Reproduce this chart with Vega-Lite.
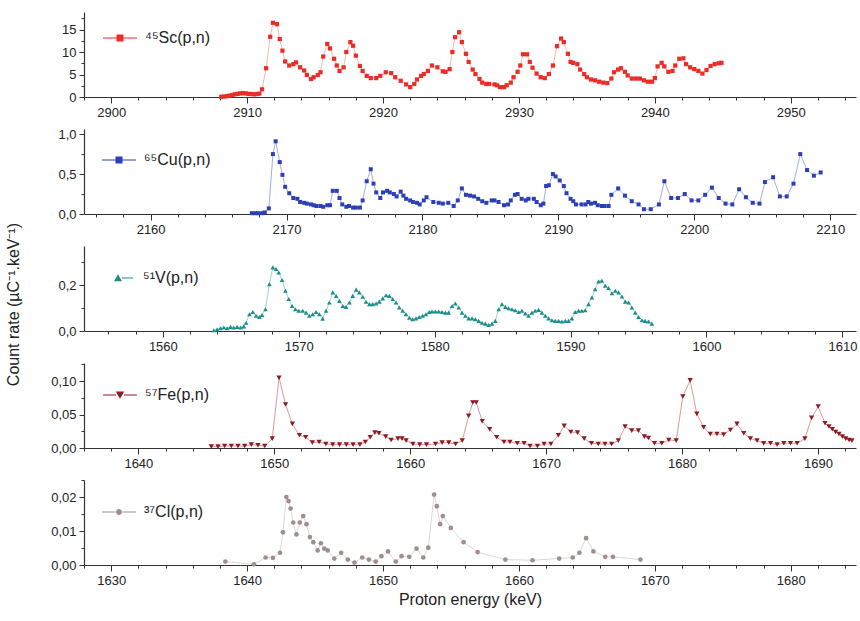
{
  "$schema": "https://vega.github.io/schema/vega-lite/v6.json",
  "padding": {"left": 5, "top": 12, "right": 2, "bottom": 5},
  "spacing": 32,
  "bounds": "flush",
  "background": "white",
  "datasets": {
    "sc": [
      {"E":2908.1,"v":0.05},{"E":2908.3,"v":0.1},{"E":2908.5,"v":0.2},{"E":2908.7,"v":0.3},{"E":2908.9,"v":0.45},{"E":2909.1,"v":0.6},{"E":2909.3,"v":0.7},{"E":2909.5,"v":0.8},{"E":2909.7,"v":0.85},{"E":2909.9,"v":0.8},{"E":2910.1,"v":0.7},{"E":2910.3,"v":0.65},{"E":2910.5,"v":0.6},{"E":2910.7,"v":0.65},{"E":2910.9,"v":0.75},
      {"E":2911.1,"v":1.7},{"E":2911.4,"v":6.4},{"E":2911.7,"v":13.4},{"E":2911.9,"v":16.5},{"E":2912.2,"v":16.2},{"E":2912.4,"v":12.9},{"E":2912.6,"v":10.3},{"E":2912.8,"v":7.9},{"E":2913.1,"v":7.0},{"E":2913.4,"v":7.3},{"E":2913.6,"v":7.7},{"E":2913.9,"v":6.6},{"E":2914.2,"v":5.9},{"E":2914.4,"v":4.9},{"E":2914.7,"v":4.0},{"E":2914.9,"v":4.4},{"E":2915.2,"v":4.9},{"E":2915.4,"v":5.5},{"E":2915.6,"v":9.0},{"E":2915.9,"v":11.8},{"E":2916.1,"v":10.8},{"E":2916.4,"v":8.5},{"E":2916.6,"v":7.0},{"E":2916.8,"v":5.8},{"E":2917.1,"v":6.6},{"E":2917.3,"v":10.0},{"E":2917.6,"v":12.2},{"E":2917.8,"v":11.4},{"E":2918.0,"v":9.2},{"E":2918.3,"v":6.9},{"E":2918.5,"v":5.8},{"E":2918.8,"v":4.7},{"E":2919.1,"v":4.2},{"E":2919.5,"v":4.2},{"E":2919.8,"v":4.7},{"E":2920.2,"v":5.5},{"E":2920.6,"v":5.3},{"E":2920.9,"v":4.4},{"E":2921.3,"v":3.6},{"E":2921.7,"v":2.8},{"E":2922.0,"v":2.2},{"E":2922.3,"v":2.9},{"E":2922.5,"v":3.9},{"E":2922.8,"v":4.7},{"E":2923.0,"v":5.1},{"E":2923.3,"v":5.8},{"E":2923.6,"v":7.0},{"E":2924.0,"v":6.6},{"E":2924.4,"v":5.7},{"E":2924.6,"v":5.6},{"E":2924.9,"v":6.2},{"E":2925.1,"v":10.0},{"E":2925.3,"v":13.3},{"E":2925.6,"v":14.4},{"E":2925.8,"v":12.2},{"E":2926.1,"v":9.6},{"E":2926.3,"v":7.8},{"E":2926.6,"v":6.1},{"E":2926.8,"v":5.1},{"E":2927.1,"v":4.0},{"E":2927.3,"v":3.2},{"E":2927.6,"v":2.9},{"E":2927.8,"v":2.9},{"E":2928.2,"v":2.8},{"E":2928.4,"v":2.6},{"E":2928.6,"v":2.2},{"E":2928.9,"v":2.2},{"E":2929.1,"v":2.6},{"E":2929.4,"v":3.2},{"E":2929.6,"v":4.4},{"E":2929.9,"v":5.6},{"E":2930.1,"v":7.0},{"E":2930.3,"v":9.5},{"E":2930.6,"v":9.5},{"E":2930.8,"v":7.8},{"E":2931.0,"v":6.5},{"E":2931.3,"v":5.2},{"E":2931.6,"v":4.4},{"E":2931.9,"v":4.2},{"E":2932.2,"v":5.1},{"E":2932.5,"v":7.0},{"E":2932.8,"v":11.3},{"E":2933.1,"v":13.0},{"E":2933.3,"v":12.2},{"E":2933.6,"v":9.6},{"E":2933.8,"v":7.8},{"E":2934.0,"v":7.6},{"E":2934.3,"v":7.3},{"E":2934.5,"v":6.1},{"E":2934.8,"v":5.1},{"E":2935.0,"v":4.4},{"E":2935.3,"v":3.9},{"E":2935.6,"v":3.7},{"E":2935.9,"v":3.4},{"E":2936.2,"v":3.2},{"E":2936.5,"v":3.1},{"E":2936.8,"v":4.1},{"E":2937.0,"v":5.5},{"E":2937.3,"v":6.1},{"E":2937.5,"v":6.4},{"E":2937.8,"v":5.6},{"E":2938.0,"v":4.8},{"E":2938.3,"v":4.1},{"E":2938.6,"v":4.1},{"E":2938.9,"v":4.1},{"E":2939.2,"v":3.7},{"E":2939.5,"v":3.4},{"E":2939.8,"v":3.4},{"E":2940.0,"v":4.2},{"E":2940.2,"v":6.8},{"E":2940.5,"v":7.6},{"E":2940.7,"v":6.8},{"E":2941.0,"v":5.6},{"E":2941.3,"v":5.8},{"E":2941.5,"v":7.0},{"E":2941.8,"v":8.5},{"E":2942.1,"v":8.6},{"E":2942.3,"v":7.3},{"E":2942.6,"v":6.6},{"E":2942.9,"v":6.2},{"E":2943.2,"v":5.8},{"E":2943.5,"v":5.2},{"E":2943.8,"v":6.0},{"E":2944.1,"v":6.9},{"E":2944.4,"v":7.3},{"E":2944.7,"v":7.5},{"E":2944.9,"v":7.6}
    ],
    "cu": [
      {"E":2167.45,"v":0.01},{"E":2167.7,"v":0.01},{"E":2167.9,"v":0.01},{"E":2168.2,"v":0.01},{"E":2168.4,"v":0.02},{"E":2168.7,"v":0.07},{"E":2169.0,"v":0.75},{"E":2169.2,"v":0.91},{"E":2169.5,"v":0.65},{"E":2169.7,"v":0.49},{"E":2169.9,"v":0.34},{"E":2170.2,"v":0.26},{"E":2170.5,"v":0.2},{"E":2170.8,"v":0.19},{"E":2171.0,"v":0.15},{"E":2171.3,"v":0.14},{"E":2171.5,"v":0.13},{"E":2171.8,"v":0.12},{"E":2172.0,"v":0.11},{"E":2172.2,"v":0.1},{"E":2172.5,"v":0.1},{"E":2172.7,"v":0.09},{"E":2173.0,"v":0.11},{"E":2173.2,"v":0.11},{"E":2173.4,"v":0.29},{"E":2173.7,"v":0.29},{"E":2173.9,"v":0.2},{"E":2174.1,"v":0.12},{"E":2174.4,"v":0.09},{"E":2174.6,"v":0.1},{"E":2174.9,"v":0.08},{"E":2175.1,"v":0.08},{"E":2175.4,"v":0.08},{"E":2175.6,"v":0.17},{"E":2175.9,"v":0.41},{"E":2176.2,"v":0.56},{"E":2176.4,"v":0.38},{"E":2176.6,"v":0.27},{"E":2176.9,"v":0.2},{"E":2177.1,"v":0.27},{"E":2177.4,"v":0.29},{"E":2177.6,"v":0.27},{"E":2177.9,"v":0.25},{"E":2178.1,"v":0.22},{"E":2178.4,"v":0.28},{"E":2178.6,"v":0.23},{"E":2178.8,"v":0.19},{"E":2179.1,"v":0.17},{"E":2179.3,"v":0.15},{"E":2179.6,"v":0.14},{"E":2179.8,"v":0.12},{"E":2180.1,"v":0.17},{"E":2180.3,"v":0.21},{"E":2180.8,"v":0.15},{"E":2181.2,"v":0.14},{"E":2181.5,"v":0.13},{"E":2181.9,"v":0.14},{"E":2182.3,"v":0.1},{"E":2182.6,"v":0.17},{"E":2182.9,"v":0.32},{"E":2183.2,"v":0.24},{"E":2183.5,"v":0.23},{"E":2183.8,"v":0.22},{"E":2184.1,"v":0.19},{"E":2184.4,"v":0.16},{"E":2184.7,"v":0.14},{"E":2185.1,"v":0.17},{"E":2185.3,"v":0.17},{"E":2185.6,"v":0.15},{"E":2186.0,"v":0.11},{"E":2186.3,"v":0.12},{"E":2186.5,"v":0.17},{"E":2186.8,"v":0.24},{"E":2187.0,"v":0.25},{"E":2187.3,"v":0.19},{"E":2187.6,"v":0.17},{"E":2187.8,"v":0.19},{"E":2188.2,"v":0.19},{"E":2188.4,"v":0.15},{"E":2188.7,"v":0.11},{"E":2188.9,"v":0.13},{"E":2189.1,"v":0.35},{"E":2189.3,"v":0.36},{"E":2189.6,"v":0.5},{"E":2189.8,"v":0.47},{"E":2190.1,"v":0.42},{"E":2190.4,"v":0.35},{"E":2190.6,"v":0.26},{"E":2190.9,"v":0.19},{"E":2191.1,"v":0.16},{"E":2191.3,"v":0.12},{"E":2191.7,"v":0.12},{"E":2192.0,"v":0.12},{"E":2192.2,"v":0.15},{"E":2192.4,"v":0.13},{"E":2192.7,"v":0.14},{"E":2192.9,"v":0.11},{"E":2193.2,"v":0.1},{"E":2193.4,"v":0.1},{"E":2193.7,"v":0.1},{"E":2193.9,"v":0.24},{"E":2194.4,"v":0.32},{"E":2194.9,"v":0.23},{"E":2195.4,"v":0.16},{"E":2195.9,"v":0.12},{"E":2196.3,"v":0.06},{"E":2196.8,"v":0.06},{"E":2197.4,"v":0.12},{"E":2197.8,"v":0.41},{"E":2198.3,"v":0.2},{"E":2198.8,"v":0.2},{"E":2199.3,"v":0.25},{"E":2199.8,"v":0.17},{"E":2200.3,"v":0.17},{"E":2200.8,"v":0.24},{"E":2201.3,"v":0.33},{"E":2201.8,"v":0.2},{"E":2202.3,"v":0.13},{"E":2202.8,"v":0.12},{"E":2203.3,"v":0.31},{"E":2203.8,"v":0.21},{"E":2204.3,"v":0.14},{"E":2204.8,"v":0.13},{"E":2205.2,"v":0.4},{"E":2205.8,"v":0.46},{"E":2206.3,"v":0.22},{"E":2206.8,"v":0.22},{"E":2207.3,"v":0.38},{"E":2207.8,"v":0.75},{"E":2208.3,"v":0.55},{"E":2208.8,"v":0.48},{"E":2209.3,"v":0.52}
    ],
    "va": [
      {"E":1563.75,"v":0.003},{"E":1564.0,"v":0.007},{"E":1564.24,"v":0.012},{"E":1564.49,"v":0.015},{"E":1564.73,"v":0.012},{"E":1564.98,"v":0.018},{"E":1565.22,"v":0.015},{"E":1565.47,"v":0.018},{"E":1565.72,"v":0.015},{"E":1565.96,"v":0.02},{"E":1566.13,"v":0.036},{"E":1566.37,"v":0.073},{"E":1566.62,"v":0.083},{"E":1566.86,"v":0.066},{"E":1567.11,"v":0.061},{"E":1567.3,"v":0.07},{"E":1567.55,"v":0.095},{"E":1567.84,"v":0.204},{"E":1568.09,"v":0.277},{"E":1568.33,"v":0.27},{"E":1568.53,"v":0.255},{"E":1568.77,"v":0.222},{"E":1569.02,"v":0.175},{"E":1569.26,"v":0.139},{"E":1569.51,"v":0.109},{"E":1569.75,"v":0.095},{"E":1570.0,"v":0.088},{"E":1570.29,"v":0.088},{"E":1570.54,"v":0.08},{"E":1570.78,"v":0.066},{"E":1571.03,"v":0.073},{"E":1571.27,"v":0.083},{"E":1571.52,"v":0.073},{"E":1571.76,"v":0.054},{"E":1572.01,"v":0.088},{"E":1572.25,"v":0.124},{"E":1572.5,"v":0.168},{"E":1572.75,"v":0.153},{"E":1572.99,"v":0.131},{"E":1573.24,"v":0.109},{"E":1573.48,"v":0.105},{"E":1573.73,"v":0.124},{"E":1573.97,"v":0.153},{"E":1574.22,"v":0.18},{"E":1574.46,"v":0.168},{"E":1574.71,"v":0.149},{"E":1574.95,"v":0.127},{"E":1575.2,"v":0.117},{"E":1575.44,"v":0.117},{"E":1575.69,"v":0.12},{"E":1575.93,"v":0.128},{"E":1576.18,"v":0.142},{"E":1576.42,"v":0.156},{"E":1576.67,"v":0.153},{"E":1576.91,"v":0.139},{"E":1577.16,"v":0.124},{"E":1577.4,"v":0.102},{"E":1577.65,"v":0.088},{"E":1577.89,"v":0.073},{"E":1578.14,"v":0.058},{"E":1578.38,"v":0.051},{"E":1578.63,"v":0.055},{"E":1578.87,"v":0.061},{"E":1579.12,"v":0.066},{"E":1579.36,"v":0.073},{"E":1579.6,"v":0.083},{"E":1579.8,"v":0.085},{"E":1580.05,"v":0.085},{"E":1580.3,"v":0.085},{"E":1580.54,"v":0.083},{"E":1580.79,"v":0.08},{"E":1581.03,"v":0.08},{"E":1581.28,"v":0.109},{"E":1581.52,"v":0.12},{"E":1581.77,"v":0.102},{"E":1582.01,"v":0.08},{"E":1582.26,"v":0.066},{"E":1582.5,"v":0.055},{"E":1582.75,"v":0.055},{"E":1582.99,"v":0.051},{"E":1583.24,"v":0.044},{"E":1583.48,"v":0.036},{"E":1583.73,"v":0.032},{"E":1583.97,"v":0.026},{"E":1584.22,"v":0.032},{"E":1584.46,"v":0.044},{"E":1584.71,"v":0.095},{"E":1584.95,"v":0.117},{"E":1585.2,"v":0.105},{"E":1585.44,"v":0.099},{"E":1585.69,"v":0.095},{"E":1585.93,"v":0.09},{"E":1586.18,"v":0.083},{"E":1586.42,"v":0.088},{"E":1586.67,"v":0.076},{"E":1586.91,"v":0.066},{"E":1587.16,"v":0.08},{"E":1587.4,"v":0.088},{"E":1587.65,"v":0.092},{"E":1587.89,"v":0.08},{"E":1588.14,"v":0.066},{"E":1588.38,"v":0.055},{"E":1588.63,"v":0.047},{"E":1588.87,"v":0.044},{"E":1589.12,"v":0.044},{"E":1589.36,"v":0.041},{"E":1589.61,"v":0.044},{"E":1589.85,"v":0.044},{"E":1590.1,"v":0.055},{"E":1590.34,"v":0.083},{"E":1590.59,"v":0.088},{"E":1590.83,"v":0.088},{"E":1591.08,"v":0.09},{"E":1591.32,"v":0.117},{"E":1591.57,"v":0.146},{"E":1591.81,"v":0.182},{"E":1592.06,"v":0.216},{"E":1592.3,"v":0.219},{"E":1592.55,"v":0.197},{"E":1592.79,"v":0.187},{"E":1593.04,"v":0.164},{"E":1593.29,"v":0.175},{"E":1593.53,"v":0.168},{"E":1593.78,"v":0.15},{"E":1594.02,"v":0.128},{"E":1594.27,"v":0.124},{"E":1594.51,"v":0.102},{"E":1594.76,"v":0.08},{"E":1595.0,"v":0.061},{"E":1595.25,"v":0.047},{"E":1595.49,"v":0.044},{"E":1595.74,"v":0.041},{"E":1595.98,"v":0.032}
    ],
    "fe": [
      {"E":1645.37,"v":0.002},{"E":1645.86,"v":0.002},{"E":1646.35,"v":0.003},{"E":1646.84,"v":0.003},{"E":1647.33,"v":0.003},{"E":1647.82,"v":0.003},{"E":1648.31,"v":0.005},{"E":1648.8,"v":0.004},{"E":1649.3,"v":0.003},{"E":1649.85,"v":0.014},{"E":1650.35,"v":0.105},{"E":1650.83,"v":0.065},{"E":1651.33,"v":0.036},{"E":1651.85,"v":0.019},{"E":1652.31,"v":0.016},{"E":1652.8,"v":0.008},{"E":1653.3,"v":0.009},{"E":1653.8,"v":0.006},{"E":1654.3,"v":0.005},{"E":1654.8,"v":0.005},{"E":1655.3,"v":0.005},{"E":1655.8,"v":0.005},{"E":1656.3,"v":0.005},{"E":1656.7,"v":0.009},{"E":1657.06,"v":0.016},{"E":1657.4,"v":0.023},{"E":1657.7,"v":0.022},{"E":1658.2,"v":0.017},{"E":1658.6,"v":0.012},{"E":1659.1,"v":0.014},{"E":1659.4,"v":0.014},{"E":1659.7,"v":0.011},{"E":1660.2,"v":0.006},{"E":1660.7,"v":0.005},{"E":1661.2,"v":0.005},{"E":1661.86,"v":0.006},{"E":1662.35,"v":0.008},{"E":1662.84,"v":0.008},{"E":1663.34,"v":0.006},{"E":1663.83,"v":0.011},{"E":1664.3,"v":0.048},{"E":1664.6,"v":0.068},{"E":1664.86,"v":0.068},{"E":1665.3,"v":0.04},{"E":1665.85,"v":0.028},{"E":1666.36,"v":0.016},{"E":1666.9,"v":0.009},{"E":1667.34,"v":0.009},{"E":1667.88,"v":0.007},{"E":1668.38,"v":0.007},{"E":1668.82,"v":0.003},{"E":1669.36,"v":0.003},{"E":1669.85,"v":0.006},{"E":1670.35,"v":0.006},{"E":1670.9,"v":0.019},{"E":1671.33,"v":0.033},{"E":1671.82,"v":0.024},{"E":1672.31,"v":0.023},{"E":1672.8,"v":0.014},{"E":1673.34,"v":0.007},{"E":1673.84,"v":0.006},{"E":1674.33,"v":0.006},{"E":1674.82,"v":0.006},{"E":1675.31,"v":0.011},{"E":1675.81,"v":0.032},{"E":1676.3,"v":0.026},{"E":1676.79,"v":0.026},{"E":1677.23,"v":0.017},{"E":1677.53,"v":0.015},{"E":1677.97,"v":0.007},{"E":1678.51,"v":0.007},{"E":1679.03,"v":0.012},{"E":1679.57,"v":0.011},{"E":1680.06,"v":0.077},{"E":1680.6,"v":0.101},{"E":1681.09,"v":0.051},{"E":1681.59,"v":0.031},{"E":1682.08,"v":0.021},{"E":1682.57,"v":0.021},{"E":1683.06,"v":0.02},{"E":1683.56,"v":0.027},{"E":1684.04,"v":0.036},{"E":1684.54,"v":0.022},{"E":1685.03,"v":0.014},{"E":1685.52,"v":0.011},{"E":1686.01,"v":0.007},{"E":1686.51,"v":0.007},{"E":1687.0,"v":0.005},{"E":1687.49,"v":0.007},{"E":1687.98,"v":0.007},{"E":1688.47,"v":0.007},{"E":1689.04,"v":0.014},{"E":1689.53,"v":0.045},{"E":1690.02,"v":0.062},{"E":1690.52,"v":0.037},{"E":1690.81,"v":0.032},{"E":1691.06,"v":0.028},{"E":1691.3,"v":0.024},{"E":1691.55,"v":0.021},{"E":1691.8,"v":0.017},{"E":1692.04,"v":0.014},{"E":1692.29,"v":0.012},{"E":1692.5,"v":0.011}
    ],
    "cl": [
      {"E":1638.4,"v":0.001},{"E":1640.5,"v":0.0002},{"E":1641.36,"v":0.0022},{"E":1641.9,"v":0.0021},{"E":1642.42,"v":0.0036},{"E":1642.64,"v":0.0096},{"E":1642.89,"v":0.02},{"E":1643.05,"v":0.0188},{"E":1643.2,"v":0.0166},{"E":1643.39,"v":0.0125},{"E":1643.63,"v":0.009},{"E":1643.88,"v":0.0125},{"E":1644.13,"v":0.0144},{"E":1644.37,"v":0.012},{"E":1644.62,"v":0.0082},{"E":1644.87,"v":0.0067},{"E":1645.19,"v":0.0043},{"E":1645.43,"v":0.0064},{"E":1645.68,"v":0.0048},{"E":1645.93,"v":0.0043},{"E":1646.42,"v":0.0019},{"E":1646.92,"v":0.0036},{"E":1647.41,"v":0.0016},{"E":1647.9,"v":0.0007},{"E":1648.47,"v":0.0022},{"E":1648.96,"v":0.0016},{"E":1649.46,"v":0.001},{"E":1649.88,"v":0.0026},{"E":1650.37,"v":0.004},{"E":1650.94,"v":0.001},{"E":1651.36,"v":0.0026},{"E":1651.93,"v":0.0024},{"E":1652.47,"v":0.0048},{"E":1652.96,"v":0.0022},{"E":1653.33,"v":0.0051},{"E":1653.76,"v":0.0207},{"E":1653.96,"v":0.0173},{"E":1654.2,"v":0.012},{"E":1654.4,"v":0.0144},{"E":1654.99,"v":0.0109},{"E":1655.93,"v":0.0067},{"E":1656.96,"v":0.0038},{"E":1659.0,"v":0.0016},{"E":1661.0,"v":0.0014},{"E":1662.96,"v":0.0019},{"E":1663.96,"v":0.0022},{"E":1664.45,"v":0.0036},{"E":1664.94,"v":0.0079},{"E":1665.48,"v":0.004},{"E":1666.35,"v":0.0024},{"E":1666.92,"v":0.0024},{"E":1668.94,"v":0.0016}
    ]
  },
  "vconcat": [
    {
      "width": 772, "height": 85,
      "data": {"name": "sc"},
      "encoding": {
        "x": {"field": "E", "type": "quantitative", "scale": {"domain": [2898, 2954.8], "nice": false, "zero": false},
          "axis": {"title": null, "format": "d", "values": [2898,2900,2902,2904,2906,2908,2910,2912,2914,2916,2918,2920,2922,2924,2926,2928,2930,2932,2934,2936,2938,2940,2942,2944,2946,2948,2950,2952,2954],
            "labelExpr": "datum.value % 10 === 0 ? datum.label : ''", "tickSize": {"condition": {"test": "datum.value % 10 === 0", "value": 6}, "value": 3}}},
        "y": {"field": "v", "type": "quantitative", "scale": {"domain": [0, 18.9], "nice": false, "zero": false},
          "axis": {"title": null, "values": [0,2.5,5,7.5,10,12.5,15,17.5],
            "labelExpr": "datum.value % 5 === 0 ? format(datum.value, 'd') : ''", "tickSize": {"condition": {"test": "datum.value % 5 === 0", "value": 5}, "value": 3}}}
      },
      "layer": [
        {"mark": {"type": "line", "color": "#f4a3a0", "strokeWidth": 0.8}},
        {"mark": {"type": "point", "shape": "square", "filled": true, "size": 18, "opacity": 1},
          "encoding": {"color": {"datum": "⁴⁵Sc(p,n)", "type": "nominal", "scale": {"range": ["#ec2c26"]},
            "legend": {"orient": "none", "legendX": 28, "legendY": 18, "symbolType": "M-3.4,-0.08H-0.7V0.08H-3.4Z M0.7,-0.08H3.4V0.08H0.7Z M-0.7,-0.7H0.7V0.7H-0.7Z"}}}}
      ]
    },
    {
      "width": 772, "height": 85,
      "data": {"name": "cu"},
      "encoding": {
        "x": {"field": "E", "type": "quantitative", "scale": {"domain": [2155.1, 2211.9], "nice": false, "zero": false},
          "axis": {"title": null, "format": "d", "values": [2156,2158,2160,2162,2164,2166,2168,2170,2172,2174,2176,2178,2180,2182,2184,2186,2188,2190,2192,2194,2196,2198,2200,2202,2204,2206,2208,2210],
            "labelExpr": "datum.value % 10 === 0 ? datum.label : ''", "tickSize": {"condition": {"test": "datum.value % 10 === 0", "value": 6}, "value": 3}}},
        "y": {"field": "v", "type": "quantitative", "scale": {"domain": [0, 1.064], "nice": false, "zero": false},
          "axis": {"title": null, "values": [0,0.25,0.5,0.75,1],
            "labelExpr": "abs(datum.value*2 - round(datum.value*2)) < 0.001 ? replace(format(datum.value, '.1f'), '.', ',') : ''", "tickSize": {"condition": {"test": "abs(datum.value*2 - round(datum.value*2)) < 0.001", "value": 5}, "value": 3}}}
      },
      "layer": [
        {"mark": {"type": "line", "color": "#8c98dc", "strokeWidth": 0.8}},
        {"mark": {"type": "point", "shape": "square", "filled": true, "size": 16, "opacity": 1},
          "encoding": {"color": {"datum": "⁶⁵Cu(p,n)", "type": "nominal", "scale": {"range": ["#2d3fb4"]},
            "legend": {"orient": "none", "legendX": 27, "legendY": 23, "symbolType": "M-3.4,-0.08H-0.7V0.08H-3.4Z M0.7,-0.08H3.4V0.08H0.7Z M-0.7,-0.7H0.7V0.7H-0.7Z"}}}}
      ]
    },
    {
      "width": 772, "height": 85,
      "data": {"name": "va"},
      "encoding": {
        "x": {"field": "E", "type": "quantitative", "scale": {"domain": [1554.2, 1611], "nice": false, "zero": false},
          "axis": {"title": null, "format": "d", "values": [1556,1558,1560,1562,1564,1566,1568,1570,1572,1574,1576,1578,1580,1582,1584,1586,1588,1590,1592,1594,1596,1598,1600,1602,1604,1606,1608,1610],
            "labelExpr": "datum.value % 10 === 0 ? datum.label : ''", "tickSize": {"condition": {"test": "datum.value % 10 === 0", "value": 6}, "value": 3}}},
        "y": {"field": "v", "type": "quantitative", "scale": {"domain": [0, 0.37], "nice": false, "zero": false},
          "axis": {"title": "Count rate (µC⁻¹.keV⁻¹)", "titleX": -63, "titleY": 58, "values": [0,0.1,0.2,0.3],
            "labelExpr": "abs(datum.value*5 - round(datum.value*5)) < 0.001 ? replace(format(datum.value, '.1f'), '.', ',') : ''", "tickSize": {"condition": {"test": "abs(datum.value*5 - round(datum.value*5)) < 0.001", "value": 5}, "value": 3}}}
      },
      "layer": [
        {"mark": {"type": "line", "color": "#86c4c4", "strokeWidth": 0.8}},
        {"mark": {"type": "point", "shape": "triangle-up", "filled": true, "size": 22, "opacity": 1},
          "encoding": {"color": {"datum": "⁵¹V(p,n)", "type": "nominal", "scale": {"range": ["#1b8e8c"]},
            "legend": {"orient": "none", "legendX": 26, "legendY": 24, "symbolType": "M0.8,-0.08H3.0V0.08H0.8Z M-0.8,0.65L0,-0.75L0.8,0.65Z"}}}}
      ]
    },
    {
      "width": 772, "height": 85,
      "data": {"name": "fe"},
      "encoding": {
        "x": {"field": "E", "type": "quantitative", "scale": {"domain": [1636, 1692.8], "nice": false, "zero": false},
          "axis": {"title": null, "format": "d", "values": [1636,1638,1640,1642,1644,1646,1648,1650,1652,1654,1656,1658,1660,1662,1664,1666,1668,1670,1672,1674,1676,1678,1680,1682,1684,1686,1688,1690,1692],
            "labelExpr": "datum.value % 10 === 0 ? datum.label : ''", "tickSize": {"condition": {"test": "datum.value % 10 === 0", "value": 6}, "value": 3}}},
        "y": {"field": "v", "type": "quantitative", "scale": {"domain": [0, 0.127], "nice": false, "zero": false},
          "axis": {"title": null, "values": [0,0.025,0.05,0.075,0.1,0.125],
            "labelExpr": "abs(datum.value*20 - round(datum.value*20)) < 0.001 ? replace(format(datum.value, '.2f'), '.', ',') : ''", "tickSize": {"condition": {"test": "abs(datum.value*20 - round(datum.value*20)) < 0.001", "value": 5}, "value": 3}}}
      },
      "layer": [
        {"mark": {"type": "line", "color": "#d08080", "strokeWidth": 0.8}},
        {"mark": {"type": "point", "shape": "triangle-down", "filled": true, "size": 28, "opacity": 1},
          "encoding": {"color": {"datum": "⁵⁷Fe(p,n)", "type": "nominal", "scale": {"range": ["#8e1a24"]},
            "legend": {"orient": "none", "legendX": 28, "legendY": 24, "symbolType": "M-3.4,-0.08H-0.8V0.08H-3.4Z M0.8,-0.08H3.4V0.08H0.8Z M-0.85,-0.7L0,0.75L0.85,-0.7Z"}}}}
      ]
    },
    {
      "width": 772, "height": 85,
      "data": {"name": "cl"},
      "encoding": {
        "x": {"field": "E", "type": "quantitative", "scale": {"domain": [1628, 1684.8], "nice": false, "zero": false},
          "axis": {"title": "Proton energy (keV)", "format": "d", "values": [1628,1630,1632,1634,1636,1638,1640,1642,1644,1646,1648,1650,1652,1654,1656,1658,1660,1662,1664,1666,1668,1670,1672,1674,1676,1678,1680,1682,1684],
            "labelExpr": "datum.value % 10 === 0 ? datum.label : ''", "tickSize": {"condition": {"test": "datum.value % 10 === 0", "value": 6}, "value": 3}}},
        "y": {"field": "v", "type": "quantitative", "scale": {"domain": [0, 0.025], "nice": false, "zero": false},
          "axis": {"title": null, "values": [0,0.005,0.01,0.015,0.02,0.025],
            "labelExpr": "abs(datum.value*100 - round(datum.value*100)) < 0.001 ? replace(format(datum.value, '.2f'), '.', ',') : ''", "tickSize": {"condition": {"test": "abs(datum.value*100 - round(datum.value*100)) < 0.001", "value": 5}, "value": 3}}}
      },
      "layer": [
        {"mark": {"type": "line", "color": "#d6cccc", "strokeWidth": 0.8}},
        {"mark": {"type": "point", "shape": "circle", "filled": true, "size": 22, "opacity": 1},
          "encoding": {"color": {"datum": "³⁷Cl(p,n)", "type": "nominal", "scale": {"range": ["#a08e8e"]},
            "legend": {"orient": "none", "legendX": 27, "legendY": 24, "symbolType": "M-3.4,-0.08H-0.7V0.08H-3.4Z M0.7,-0.08H3.4V0.08H0.7Z M0.6,0A0.6,0.6,0,1,1,-0.6,0A0.6,0.6,0,1,1,0.6,0Z"}}}}
      ]
    }
  ],
  "resolve": {"scale": {"x": "independent", "y": "independent", "color": "independent"}, "legend": {"color": "independent"}, "axis": {"x": "independent", "y": "independent"}},
  "config": {
    "view": {"stroke": null},
    "axis": {"grid": false, "domainColor": "#333333", "domainWidth": 1.2, "tickColor": "#333333", "tickWidth": 1, "labelColor": "#222222", "labelFont": "Liberation Sans", "labelFontSize": 13, "labelOverlap": false, "labelFlush": false, "labelPadding": 3, "titleFont": "Liberation Sans", "titleFontSize": 16, "titleFontWeight": "normal", "titleColor": "#222222"},
    "legend": {"title": null, "labelFont": "Liberation Sans", "labelFontSize": 16, "labelColor": "#222222", "symbolSize": 100, "labelOffset": 17, "padding": 0, "symbolStrokeWidth": 0}
  }
}
